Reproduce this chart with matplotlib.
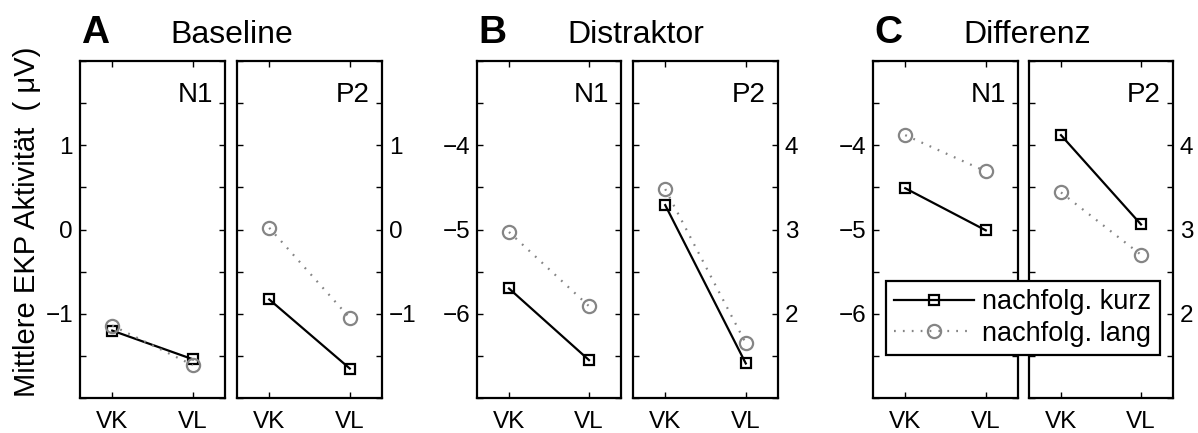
import matplotlib
matplotlib.use("Agg")
import matplotlib.pyplot as plt
from matplotlib.lines import Line2D

plt.rcParams['font.family'] = ['Liberation Sans', 'DejaVu Sans']

# Conditions on the x axis
conditions = ["VK", "VL"]

# Mean ERP amplitudes (µV): [VK, VL] per component and follow-up type
baseline_n1_kurz = [-1.20, -1.54]
baseline_n1_lang = [-1.14, -1.61]
baseline_p2_kurz = [-0.83, -1.65]
baseline_p2_lang = [0.02, -1.05]

distraktor_n1_kurz = [-5.70, -6.55]
distraktor_n1_lang = [-5.03, -5.91]
distraktor_p2_kurz = [3.29, 1.41]
distraktor_p2_lang = [3.48, 1.65]

differenz_n1_kurz = [-4.51, -5.01]
differenz_n1_lang = [-3.88, -4.31]
differenz_p2_kurz = [4.12, 3.06]
differenz_p2_lang = [3.44, 2.70]

ylim_baseline = (-2, 2)
ylim_n1 = (-7, -3)
ylim_p2 = (1, 5)

group_letters = ["A", "B", "C"]
group_titles = ["Baseline", "Distraktor", "Differenz"]
component_names = ["N1", "P2"]
legend_labels = ["nachfolg. kurz", "nachfolg. lang"]
ylabel_text = "Mittlere EKP Aktivität  ( \u03bcV)"

W, H = 1198, 433
fig = plt.figure(figsize=(W / 100, H / 100), dpi=100)

FS_TICK = 17.5
FS_COMP = 20
FS_LEG = 19.5
FS_TITLE = 23
FS_LETTER = 28
FS_YLABEL = 21
GRAY = "#858585"
LW = 1.6

def px_axes(x0, x1, y0, y1):
    return fig.add_axes([x0 / W, 1 - y1 / H, (x1 - x0) / W, (y1 - y0) / H])

panel_x = [
    [(80, 225), (237, 382)],
    [(477, 621), (633, 778)],
    [(873, 1018), (1029, 1173)],
]
top_px, bot_px = 61, 398

group_data = [
    [(baseline_n1_kurz, baseline_n1_lang, ylim_baseline),
     (baseline_p2_kurz, baseline_p2_lang, ylim_baseline)],
    [(distraktor_n1_kurz, distraktor_n1_lang, ylim_n1),
     (distraktor_p2_kurz, distraktor_p2_lang, ylim_p2)],
    [(differenz_n1_kurz, differenz_n1_lang, ylim_n1),
     (differenz_p2_kurz, differenz_p2_lang, ylim_p2)],
]

kurz_style = dict(color="black", lw=LW, marker="s", ms=7.5, mfc="none",
                  mec="black", mew=LW)
lang_style = dict(color=GRAY, lw=LW, ls=(0, (0.8, 3.2)), marker="o",
                  ms=9.5, mfc="none", mec=GRAY, mew=LW)

xpos = [1, 2]
for g in range(3):
    for c in range(2):
        kurz, lang, ylim = group_data[g][c]
        x0, x1 = panel_x[g][c]
        ax = px_axes(x0, x1, top_px, bot_px)
        ax.plot(xpos, kurz, **kurz_style)
        ax.plot(xpos, lang, **lang_style)
        ax.set_xlim(0.6, 2.4)
        ax.set_ylim(*ylim)
        ticks = [ylim[0] + 0.5 * k for k in range(9)]
        labels = [("%d" % round(t)).replace("-", "\u2212")
                  if abs(t - round(t)) < 1e-9 and t not in ylim else ""
                  for t in ticks]
        ax.set_yticks(ticks, labels=labels)
        ax.set_xticks(xpos, labels=conditions)
        ax.tick_params(axis="both", direction="in", length=4, width=1,
                       labelsize=FS_TICK, top=True, right=True, left=True,
                       bottom=True, colors="black")
        ax.tick_params(axis="x", pad=9)
        ax.tick_params(axis="y", pad=5,
                       labelleft=(c == 0), labelright=(c == 1))
        for sp in ax.spines.values():
            sp.set_linewidth(LW)
        ax.text(1 - 12 / (x1 - x0), (bot_px - 102) / (bot_px - top_px),
                component_names[c], transform=ax.transAxes, ha="right",
                va="baseline", fontsize=FS_COMP)
    # group letter and title
    gx = panel_x[g][0][0]
    fig.text((gx + 1) / W, 1 - 43 / H, group_letters[g], fontsize=FS_LETTER,
             fontweight="bold", ha="left", va="baseline")
    fig.text((gx + 90) / W, 1 - 43 / H, group_titles[g], fontsize=FS_TITLE,
             ha="left", va="baseline")

fig.text(27 / W, 1 - 222 / H, ylabel_text, rotation=90, fontsize=FS_YLABEL,
         ha="center", va="center")

handles = [Line2D([], [], **kurz_style), Line2D([], [], **lang_style)]
leg = fig.legend(handles, legend_labels, loc="upper center",
                 bbox_to_anchor=(1023 / W, 1 - 281 / H), borderaxespad=0,
                 fontsize=FS_LEG, frameon=True, fancybox=False, framealpha=1,
                 edgecolor="black", handlelength=2.95, handletextpad=0.3,
                 borderpad=0.3, labelspacing=0.2)
leg.get_frame().set_linewidth(LW)

fig.savefig("out.png", dpi=100)
